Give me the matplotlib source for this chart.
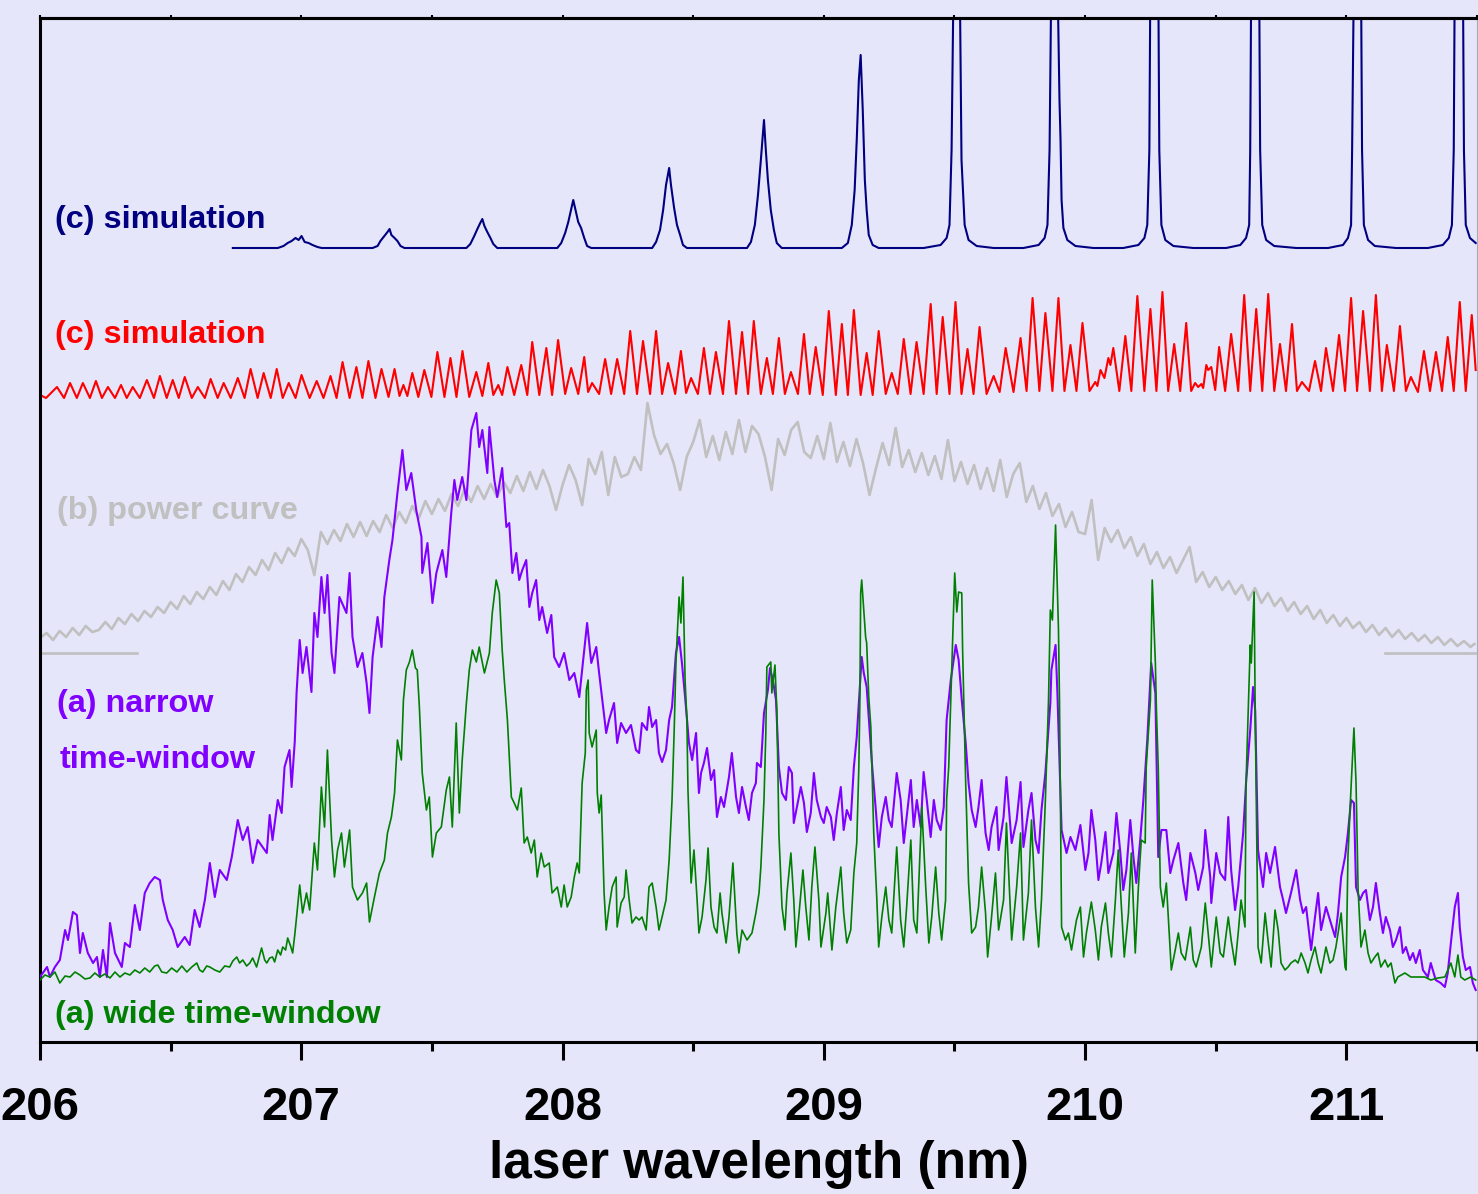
import matplotlib
matplotlib.use('Agg')
import matplotlib.pyplot as plt

# ---------------- data (wavelength in nm, signal in arbitrary units) ----------------
blue_nm = [
206.738, 206.910, 206.932, 206.948, 206.963, 206.978, 206.990, 207.001, 207.013, 207.028, 207.043, 207.062, 207.078,
207.273, 207.292, 207.303, 207.318, 207.330, 207.338, 207.345, 207.357, 207.368, 207.380, 207.395,
207.632, 207.647, 207.662, 207.674, 207.685, 207.693, 207.701, 207.712, 207.724, 207.735, 207.750,
207.980, 207.995, 208.010, 208.022, 208.033, 208.041, 208.048, 208.060, 208.071, 208.083, 208.094, 208.110,
208.343, 208.358, 208.373, 208.385, 208.396, 208.408, 208.415, 208.427, 208.438, 208.450, 208.461, 208.476,
208.706, 208.721, 208.736, 208.748, 208.759, 208.771, 208.778, 208.786, 208.797, 208.809, 208.820, 208.839,
209.069, 209.092, 209.107, 209.118, 209.126, 209.134, 209.141, 209.149, 209.157, 209.164, 209.172, 209.187, 209.210,
209.382, 209.447, 209.470, 209.481, 209.489, 209.497, 209.520, 209.527, 209.531, 209.539, 209.554, 209.585, 209.650,
209.764, 209.822, 209.845, 209.856, 209.864, 209.871, 209.894, 209.902, 209.906, 209.910, 209.917, 209.932, 209.963, 210.032,
210.146, 210.204, 210.227, 210.238, 210.246, 210.250, 210.280, 210.284, 210.292, 210.307, 210.338, 210.414,
210.540, 210.594, 210.616, 210.628, 210.632, 210.636, 210.666, 210.670, 210.678, 210.693, 210.724, 210.808,
210.930, 210.987, 211.006, 211.018, 211.022, 211.029, 211.056, 211.060, 211.067, 211.083, 211.109, 211.190,
211.312, 211.369, 211.392, 211.404, 211.411, 211.415, 211.446, 211.450, 211.457, 211.473, 211.495]
blue_sig = [
794, 794, 796, 799, 801, 804, 802, 806, 800, 799, 797, 795, 794,
794, 796, 801, 806, 810, 813, 807, 804, 801, 796, 794,
794, 798, 806, 813, 819, 823, 816, 810, 804, 798, 794,
794, 799, 809, 820, 833, 842, 834, 820, 814, 804, 796, 794,
794, 800, 812, 832, 857, 874, 857, 834, 817, 807, 797, 794,
794, 800, 817, 847, 882, 922, 892, 862, 832, 812, 799, 794,
794, 799, 817, 852, 902, 962, 987, 932, 862, 832, 807, 797, 794,
794, 797, 804, 817, 892, 1072, 1072, 882, 860, 817, 802, 796, 794,
794, 797, 804, 817, 892, 1072, 1072, 942, 902, 842, 814, 802, 796, 794,
794, 797, 804, 817, 892, 1072, 1072, 892, 817, 802, 796, 794,
794, 797, 804, 817, 892, 1072, 1072, 892, 817, 802, 796, 794,
794, 797, 804, 817, 892, 1072, 1072, 892, 817, 802, 796, 794,
794, 797, 804, 817, 892, 1072, 1072, 892, 817, 804, 799]

red_nm = [
206.000, 206.023, 206.065, 206.092, 206.115, 206.141, 206.164, 206.191, 206.214, 206.237,
206.260, 206.287, 206.310, 206.332, 206.355, 206.382, 206.409, 206.436, 206.459, 206.485,
206.508, 206.531, 206.554, 206.581, 206.604, 206.631, 206.653, 206.680, 206.703, 206.730,
206.757, 206.783, 206.806, 206.833, 206.856, 206.883, 206.906, 206.929, 206.952, 206.978,
207.001, 207.032, 207.059, 207.085, 207.112, 207.135, 207.158, 207.185, 207.211, 207.234,
207.257, 207.284, 207.307, 207.334, 207.357, 207.376, 207.391, 207.406, 207.425, 207.448,
207.471, 207.498, 207.521, 207.548, 207.571, 207.594, 207.617, 207.643, 207.670, 207.693,
207.716, 207.735, 207.754, 207.769, 207.789, 207.815, 207.842, 207.865, 207.884, 207.911,
207.938, 207.960, 207.983, 208.010, 208.033, 208.060, 208.083, 208.098, 208.113, 208.140,
208.163, 208.186, 208.209, 208.236, 208.259, 208.285, 208.308, 208.335, 208.358, 208.381,
208.404, 208.431, 208.453, 208.473, 208.492, 208.518, 208.541, 208.564, 208.587, 208.614,
208.637, 208.664, 208.687, 208.710, 208.732, 208.759, 208.782, 208.805, 208.828, 208.851,
208.874, 208.901, 208.924, 208.946, 208.969, 208.996, 209.019, 209.046, 209.069, 209.092,
209.115, 209.141, 209.164, 209.187, 209.210, 209.237, 209.260, 209.283, 209.306, 209.332,
209.355, 209.382, 209.409, 209.432, 209.455, 209.481, 209.504, 209.527, 209.550, 209.573,
209.596, 209.623, 209.650, 209.673, 209.696, 209.726, 209.753, 209.776, 209.799, 209.825,
209.848, 209.875, 209.898, 209.921, 209.944, 209.967, 209.990, 210.017, 210.039, 210.047,
210.059, 210.074, 210.089, 210.097, 210.108, 210.131, 210.154, 210.177, 210.200, 210.227,
210.250, 210.273, 210.296, 210.318, 210.341, 210.364, 210.387, 210.406, 210.421, 210.433,
210.445, 210.452, 210.464, 210.471, 210.483, 210.498, 210.513, 210.536, 210.559, 210.586,
210.609, 210.632, 210.655, 210.678, 210.701, 210.724, 210.746, 210.769, 210.792, 210.811,
210.830, 210.857, 210.880, 210.903, 210.922, 210.949, 210.972, 210.995, 211.018, 211.041,
211.064, 211.090, 211.113, 211.136, 211.155, 211.182, 211.205, 211.228, 211.247, 211.274,
211.297, 211.320, 211.343, 211.366, 211.388, 211.411, 211.434, 211.457, 211.480, 211.495]
red_sig = [
647, 644, 655, 644, 659, 644, 659, 644, 661, 644,
655, 644, 657, 644, 655, 644, 662, 644, 666, 644,
662, 644, 665, 644, 655, 644, 663, 644, 659, 644,
664, 644, 673, 644, 669, 644, 673, 644, 659, 644,
667, 644, 661, 644, 666, 644, 680, 644, 675, 644,
681, 644, 673, 645, 673, 646, 657, 646, 669, 645,
672, 645, 690, 645, 684, 645, 691, 645, 670, 646,
679, 647, 657, 647, 675, 647, 677, 647, 700, 647,
694, 647, 702, 648, 674, 648, 685, 650, 659, 648,
683, 648, 683, 648, 711, 648, 701, 648, 711, 648,
679, 648, 691, 649, 664, 648, 694, 648, 690, 648,
721, 648, 710, 648, 721, 648, 684, 648, 704, 648,
670, 648, 708, 648, 695, 647, 731, 647, 718, 647,
732, 647, 689, 647, 711, 648, 669, 648, 703, 648,
700, 648, 738, 648, 725, 648, 740, 648, 693, 648,
715, 648, 666, 650, 694, 650, 704, 651, 744, 651,
729, 651, 744, 651, 697, 651, 719, 651, 660, 656,
672, 664, 684, 677, 694, 651, 706, 651, 746, 651,
733, 651, 750, 651, 698, 651, 719, 651, 659, 655,
658, 654, 677, 672, 675, 652, 695, 651, 708, 651,
747, 651, 733, 651, 748, 651, 698, 651, 718, 651,
660, 651, 681, 651, 694, 651, 707, 651, 744, 651,
731, 651, 747, 651, 697, 651, 716, 651, 665, 650,
691, 651, 690, 651, 705, 651, 740, 651, 727, 672]

gray_nm = [
206.000, 206.025, 206.050, 206.075, 206.100, 206.125, 206.150, 206.175, 206.200, 206.225,
206.250, 206.275, 206.300, 206.325, 206.350, 206.375, 206.400, 206.425, 206.450, 206.475,
206.500, 206.525, 206.550, 206.575, 206.600, 206.625, 206.650, 206.675, 206.700, 206.725,
206.750, 206.775, 206.800, 206.825, 206.850, 206.875, 206.900, 206.925, 206.950, 206.975,
207.000, 207.025, 207.050, 207.075, 207.100, 207.125, 207.150, 207.175, 207.200, 207.225,
207.250, 207.275, 207.300, 207.325, 207.350, 207.375, 207.400, 207.425, 207.450, 207.475,
207.500, 207.525, 207.550, 207.575, 207.600, 207.625, 207.650, 207.675, 207.700, 207.725,
207.750, 207.775, 207.800, 207.825, 207.850, 207.875, 207.900, 207.925, 207.950, 207.975,
208.000, 208.025, 208.050, 208.075, 208.100, 208.125, 208.150, 208.175, 208.200, 208.225,
208.250, 208.275, 208.300, 208.325, 208.350, 208.375, 208.400, 208.425, 208.450, 208.475,
208.500, 208.525, 208.550, 208.575, 208.600, 208.625, 208.650, 208.675, 208.700, 208.725,
208.750, 208.775, 208.800, 208.825, 208.850, 208.875, 208.900, 208.925, 208.950, 208.975,
209.000, 209.025, 209.050, 209.075, 209.100, 209.125, 209.150, 209.175, 209.200, 209.225,
209.250, 209.275, 209.300, 209.325, 209.350, 209.375, 209.400, 209.425, 209.450, 209.475,
209.500, 209.525, 209.550, 209.575, 209.600, 209.625, 209.650, 209.675, 209.700, 209.725,
209.750, 209.775, 209.800, 209.825, 209.850, 209.875, 209.900, 209.925, 209.950, 209.975,
210.000, 210.025, 210.050, 210.075, 210.100, 210.125, 210.150, 210.175, 210.200, 210.225,
210.250, 210.275, 210.300, 210.325, 210.350, 210.375, 210.400, 210.425, 210.450, 210.475,
210.500, 210.525, 210.550, 210.575, 210.600, 210.625, 210.650, 210.675, 210.700, 210.725,
210.750, 210.775, 210.800, 210.825, 210.850, 210.875, 210.900, 210.925, 210.950, 210.975,
211.000, 211.025, 211.050, 211.075, 211.100, 211.125, 211.150, 211.175, 211.200, 211.225,
211.250, 211.275, 211.300, 211.325, 211.350, 211.375, 211.400, 211.425, 211.450, 211.475,
211.490]
gray_sig = [
404, 409, 402, 411, 405, 414, 407, 416, 410, 412,
420, 413, 424, 418, 428, 421, 431, 425, 435, 429,
440, 433, 446, 438, 450, 443, 455, 447, 461, 452,
468, 460, 475, 467, 482, 472, 489, 479, 494, 486,
503, 492, 467, 510, 498, 512, 501, 518, 505, 520,
506, 521, 510, 527, 514, 530, 519, 536, 524, 541,
528, 543, 531, 548, 536, 553, 540, 556, 543, 558,
545, 560, 549, 566, 551, 570, 553, 572, 556, 532,
557, 577, 562, 537, 583, 568, 590, 547, 585, 565,
568, 585, 572, 639, 607, 588, 598, 579, 552, 585,
600, 622, 585, 606, 582, 610, 588, 622, 590, 616,
608, 585, 552, 603, 587, 612, 620, 590, 584, 606,
583, 619, 580, 600, 576, 603, 579, 547, 574, 599,
577, 614, 575, 592, 570, 589, 567, 586, 563, 602,
561, 580, 558, 577, 553, 574, 551, 582, 545, 568,
579, 540, 556, 533, 549, 526, 538, 515, 530, 510,
508, 542, 482, 514, 500, 512, 494, 505, 486, 498,
478, 490, 474, 485, 469, 482, 495, 460, 470, 455,
465, 452, 461, 448, 457, 442, 454, 439, 449, 436,
444, 431, 440, 428, 436, 423, 432, 419, 427, 416,
424, 414, 420, 410, 417, 407, 414, 405, 412, 403,
409, 401, 407, 399, 405, 397, 403, 396, 401, 395,
398]
gray_zero_left_nm = [206.000, 206.371]
gray_zero_right_nm = [211.148, 211.495]
gray_zero_sig = [389, 389]

purple_nm = [
206.000, 206.027, 206.038, 206.057, 206.076, 206.096, 206.107, 206.126, 206.141, 206.153,
206.164, 206.183, 206.203, 206.218, 206.229, 206.241, 206.256, 206.268, 206.287, 206.313,
206.325, 206.344, 206.363, 206.382, 206.401, 206.420, 206.439, 206.459, 206.470, 206.489,
206.508, 206.527, 206.554, 206.573, 206.592, 206.611, 206.631, 206.650, 206.669, 206.688,
206.715, 206.734, 206.757, 206.776, 206.795, 206.814, 206.833, 206.852, 206.868, 206.879,
206.890, 206.910, 206.925, 206.936, 206.955, 206.963, 206.975, 206.982, 206.994, 207.005,
207.020, 207.039, 207.050, 207.062, 207.077, 207.089, 207.100, 207.116, 207.127, 207.146,
207.173, 207.185, 207.196, 207.215, 207.234, 207.250, 207.261, 207.273, 207.292, 207.307,
207.318, 207.337, 207.349, 207.368, 207.387, 207.402, 207.421, 207.440, 207.460, 207.463,
207.483, 207.502, 207.517, 207.540, 207.555, 207.574, 207.586, 207.597, 207.616, 207.632,
207.651, 207.670, 207.681, 207.693, 207.712, 207.720, 207.739, 207.750, 207.769, 207.785,
207.796, 207.808, 207.823, 207.834, 207.846, 207.861, 207.873, 207.884, 207.899, 207.911,
207.922, 207.941, 207.957, 207.968, 207.987, 208.006, 208.026, 208.045, 208.064, 208.083,
208.094, 208.110, 208.129, 208.140, 208.152, 208.167, 208.178, 208.197, 208.209, 208.224,
208.243, 208.262, 208.281, 208.293, 208.304, 208.323, 208.331, 208.343, 208.358, 208.369,
208.381, 208.396, 208.408, 208.419, 208.434, 208.446, 208.457, 208.469, 208.484, 208.496,
208.511, 208.522, 208.530, 208.541, 208.553, 208.568, 208.580, 208.591, 208.606, 208.618,
208.637, 208.648, 208.664, 208.675, 208.687, 208.702, 208.713, 208.725, 208.740, 208.744,
208.759, 208.771, 208.786, 208.794, 208.805, 208.817, 208.828, 208.840, 208.855, 208.866,
208.878, 208.885, 208.897, 208.912, 208.924, 208.935, 208.950, 208.962, 208.973, 208.989,
209.000, 209.011, 209.027, 209.038, 209.050, 209.065, 209.076, 209.088, 209.103, 209.115,
209.126, 209.145, 209.153, 209.164, 209.184, 209.199, 209.210, 209.222, 209.237, 209.249,
209.260, 209.279, 209.294, 209.306, 209.317, 209.333, 209.344, 209.356, 209.371, 209.382,
209.394, 209.409, 209.421, 209.432, 209.447, 209.459, 209.470, 209.486, 209.505, 209.516,
209.528, 209.543, 209.554, 209.566, 209.581, 209.592, 209.604, 209.619, 209.631, 209.642,
209.661, 209.669, 209.688, 209.699, 209.719, 209.738, 209.753, 209.764, 209.783, 209.795,
209.810, 209.822, 209.833, 209.848, 209.867, 209.871, 209.887, 209.894, 209.910, 209.929,
209.944, 209.963, 209.982, 210.001, 210.013, 210.024, 210.039, 210.051, 210.062, 210.078,
210.089, 210.108, 210.120, 210.135, 210.146, 210.158, 210.173, 210.185, 210.196, 210.211,
210.223, 210.238, 210.253, 210.269, 210.280, 210.292, 210.311, 210.326, 210.338, 210.357,
210.376, 210.387, 210.403, 210.422, 210.433, 210.452, 210.460, 210.479, 210.483, 210.502,
210.517, 210.536, 210.548, 210.559, 210.574, 210.586, 210.605, 210.616, 210.632, 210.643,
210.651, 210.662, 210.681, 210.693, 210.708, 210.727, 210.746, 210.758, 210.769, 210.788,
210.808, 210.823, 210.834, 210.846, 210.865, 210.880, 210.892, 210.903, 210.922, 210.937,
210.957, 210.968, 210.980, 210.995, 211.006, 211.018, 211.029, 211.037, 211.052, 211.064,
211.075, 211.090, 211.102, 211.113, 211.128, 211.140, 211.151, 211.167, 211.178, 211.190,
211.205, 211.216, 211.228, 211.243, 211.255, 211.266, 211.281, 211.293, 211.312, 211.323,
211.342, 211.361, 211.377, 211.388, 211.400, 211.415, 211.427, 211.434, 211.446, 211.457,
211.473, 211.484, 211.495]
purple_sig = [
65, 75, 65, 75, 82, 112, 102, 130, 127, 89,
109, 89, 79, 85, 65, 92, 65, 119, 89, 75,
99, 95, 137, 112, 149, 159, 165, 162, 142, 122,
112, 95, 105, 97, 132, 115, 142, 179, 145, 172,
162, 185, 222, 202, 215, 179, 202, 195, 189, 227,
202, 242, 229, 275, 292, 255, 300, 349, 402, 369,
395, 350, 429, 405, 465, 429, 467, 389, 369, 445,
429, 469, 405, 375, 389, 359, 329, 385, 425, 395,
445, 482, 502, 549, 592, 552, 569, 532, 505, 469,
499, 439, 469, 492, 465, 529, 562, 542, 565, 542,
612, 629, 595, 612, 569, 615, 562, 545, 574, 515,
519, 469, 489, 462, 472, 482, 435, 449, 462, 422,
435, 409, 427, 385, 375, 389, 362, 369, 345, 392,
419, 379, 395, 369, 342, 309, 322, 339, 299, 319,
309, 317, 292, 289, 319, 312, 335, 315, 322, 289,
280, 292, 322, 335, 389, 405, 379, 345, 299, 282,
309, 249, 269, 279, 294, 262, 272, 225, 245, 235,
265, 289, 245, 229, 255, 235, 222, 249, 259, 279,
275, 329, 352, 374, 362, 342, 275, 249, 242, 275,
269, 219, 235, 255, 239, 210, 229, 269, 242, 225,
219, 235, 225, 202, 229, 255, 212, 232, 222, 275,
305, 385, 369, 355, 279, 232, 195, 225, 245, 222,
215, 269, 242, 199, 225, 262, 215, 242, 215, 270,
242, 205, 242, 222, 212, 235, 322, 362, 397, 382,
342, 299, 259, 232, 215, 235, 262, 209, 192, 215,
235, 192, 225, 265, 199, 222, 260, 195, 232, 249,
202, 189, 232, 269, 339, 372, 397, 349, 212, 189,
205, 192, 217, 172, 189, 232, 202, 162, 179, 210,
169, 189, 229, 189, 152, 172, 222, 185, 159, 202,
242, 302, 379, 349, 185, 212, 212, 169, 182, 199,
159, 142, 189, 169, 152, 175, 212, 165, 139, 189,
169, 162, 225, 172, 132, 155, 209, 259, 312, 355,
332, 192, 155, 189, 169, 195, 155, 142, 129, 149,
172, 142, 129, 135, 92, 125, 149, 112, 135, 122,
105, 129, 165, 185, 209, 242, 239, 155, 142, 149,
152, 122, 135, 159, 129, 109, 125, 112, 95, 102,
115, 89, 95, 82, 89, 79, 92, 72, 65, 79,
62, 59, 55, 69, 99, 135, 149, 115, 85, 72,
75, 59, 52]

green_nm = [
206.000, 206.019, 206.038, 206.057, 206.076, 206.096, 206.115, 206.134, 206.153, 206.172,
206.191, 206.210, 206.229, 206.248, 206.268, 206.287, 206.306, 206.325, 206.344, 206.363,
206.382, 206.401, 206.420, 206.439, 206.451, 206.466, 206.485, 206.504, 206.524, 206.543,
206.562, 206.581, 206.600, 206.611, 206.623, 206.638, 206.650, 206.669, 206.688, 206.707,
206.726, 206.738, 206.753, 206.764, 206.776, 206.791, 206.803, 206.814, 206.829, 206.848,
206.860, 206.868, 206.879, 206.890, 206.898, 206.910, 206.921, 206.929, 206.940, 206.948,
206.959, 206.967, 206.975, 206.982, 206.994, 207.005, 207.020, 207.032, 207.050, 207.062,
207.077, 207.089, 207.100, 207.116, 207.127, 207.139, 207.154, 207.165, 207.185, 207.196,
207.215, 207.234, 207.250, 207.261, 207.280, 207.299, 207.318, 207.330, 207.345, 207.357,
207.368, 207.383, 207.391, 207.402, 207.414, 207.425, 207.437, 207.444, 207.452, 207.463,
207.479, 207.490, 207.502, 207.517, 207.536, 207.555, 207.567, 207.578, 207.593, 207.605,
207.616, 207.632, 207.643, 207.655, 207.670, 207.681, 207.701, 207.720, 207.731, 207.746,
207.758, 207.769, 207.777, 207.789, 207.804, 207.815, 207.827, 207.842, 207.853, 207.865,
207.880, 207.892, 207.903, 207.918, 207.930, 207.949, 207.960, 207.980, 207.995, 208.006,
208.018, 208.033, 208.045, 208.056, 208.064, 208.075, 208.087, 208.091, 208.098, 208.102,
208.113, 208.129, 208.133, 208.140, 208.148, 208.159, 208.167, 208.178, 208.190, 208.205,
208.209, 208.224, 208.236, 208.243, 208.255, 208.266, 208.281, 208.293, 208.304, 208.320,
208.331, 208.343, 208.358, 208.369, 208.381, 208.396, 208.408, 208.419, 208.427, 208.434,
208.446, 208.453, 208.461, 208.469, 208.476, 208.480, 208.492, 208.503, 208.515, 208.522,
208.534, 208.549, 208.557, 208.568, 208.580, 208.591, 208.603, 208.610, 208.626, 208.637,
208.652, 208.667, 208.675, 208.687, 208.706, 208.725, 208.740, 208.752, 208.759, 208.771,
208.778, 208.782, 208.797, 208.801, 208.813, 208.820, 208.824, 208.828, 208.840, 208.851,
208.859, 208.874, 208.885, 208.893, 208.904, 208.920, 208.931, 208.943, 208.954, 208.966,
208.981, 208.989, 209.008, 209.015, 209.031, 209.046, 209.065, 209.076, 209.088, 209.103,
209.115, 209.126, 209.134, 209.138, 209.141, 209.145, 209.160, 209.164, 209.172, 209.180,
209.191, 209.203, 209.210, 209.222, 209.237, 209.249, 209.260, 209.279, 209.294, 209.306,
209.317, 209.333, 209.344, 209.356, 209.375, 209.390, 209.402, 209.413, 209.428, 209.440,
209.451, 209.466, 209.470, 209.478, 209.486, 209.493, 209.501, 209.509, 209.516, 209.528,
209.531, 209.543, 209.554, 209.566, 209.581, 209.592, 209.604, 209.619, 209.627, 209.642,
209.657, 209.669, 209.688, 209.699, 209.719, 209.738, 209.753, 209.764, 209.783, 209.795,
209.810, 209.822, 209.833, 209.848, 209.860, 209.867, 209.875, 209.887, 209.898, 209.902,
209.910, 209.925, 209.936, 209.948, 209.967, 209.982, 209.994, 210.005, 210.024, 210.039,
210.051, 210.062, 210.078, 210.089, 210.101, 210.116, 210.127, 210.139, 210.150, 210.166,
210.177, 210.192, 210.204, 210.215, 210.230, 210.234, 210.250, 210.257, 210.269, 210.273,
210.280, 210.288, 210.299, 210.311, 210.326, 210.330, 210.345, 210.357, 210.368, 210.383,
210.403, 210.414, 210.425, 210.445, 210.460, 210.471, 210.483, 210.502, 210.517, 210.529,
210.548, 210.559, 210.574, 210.586, 210.597, 210.612, 210.616, 210.632, 210.636, 210.647,
210.651, 210.662, 210.674, 210.689, 210.700, 210.712, 210.727, 210.739, 210.750, 210.765,
210.777, 210.788, 210.804, 210.815, 210.827, 210.842, 210.853, 210.865, 210.880, 210.892,
210.903, 210.922, 210.937, 210.949, 210.960, 210.980, 210.995, 210.999, 211.006, 211.018,
211.029, 211.037, 211.045, 211.056, 211.071, 211.083, 211.094, 211.109, 211.121, 211.132,
211.148, 211.159, 211.171, 211.186, 211.197, 211.224, 211.247, 211.274, 211.300, 211.323,
211.350, 211.377, 211.400, 211.415, 211.427, 211.438, 211.453, 211.476, 211.495]
green_sig = [
62, 67, 65, 70, 59, 66, 65, 70, 67, 63,
64, 69, 65, 68, 64, 70, 65, 69, 67, 72,
69, 74, 70, 76, 77, 70, 69, 74, 70, 76,
70, 75, 79, 72, 70, 76, 75, 72, 70, 76,
75, 81, 85, 79, 82, 76, 79, 84, 75, 94,
82, 79, 84, 85, 80, 92, 87, 95, 92, 104,
96, 89, 107, 125, 157, 129, 149, 132, 199, 172,
255, 215, 292, 202, 165, 192, 209, 175, 212, 155,
142, 149, 159, 120, 145, 169, 182, 209, 225, 249,
302, 282, 342, 372, 380, 392, 374, 372, 335, 269,
232, 245, 185, 209, 215, 252, 265, 215, 319, 229,
282, 339, 372, 392, 380, 395, 369, 389, 429, 462,
449, 392, 362, 322, 245, 239, 232, 254, 199, 205,
189, 202, 165, 189, 175, 179, 149, 155, 135, 157,
135, 145, 165, 179, 169, 259, 289, 352, 362, 309,
295, 312, 249, 229, 247, 149, 112, 135, 155, 165,
115, 139, 145, 172, 142, 119, 125, 122, 125, 112,
155, 159, 135, 112, 125, 142, 182, 242, 309, 379,
445, 419, 465, 362, 322, 252, 159, 192, 142, 109,
125, 162, 194, 135, 115, 109, 149, 129, 99, 125,
179, 109, 89, 112, 102, 109, 129, 149, 175, 242,
309, 375, 380, 349, 377, 332, 275, 209, 135, 112,
149, 189, 142, 95, 125, 172, 135, 102, 155, 195,
142, 95, 129, 149, 92, 135, 175, 129, 99, 112,
169, 199, 275, 342, 449, 462, 405, 399, 345, 315,
209, 142, 95, 125, 155, 122, 109, 195, 122, 95,
135, 202, 122, 109, 235, 155, 99, 125, 175, 129,
102, 142, 242, 275, 342, 402, 469, 430, 450, 449,
395, 259, 159, 109, 115, 135, 175, 129, 85, 125,
169, 112, 142, 219, 102, 155, 209, 102, 149, 222,
135, 95, 142, 242, 342, 432, 422, 517, 414, 342,
115, 102, 109, 92, 122, 135, 85, 109, 140, 112,
82, 115, 139, 109, 85, 142, 192, 135, 85, 129,
189, 89, 155, 202, 199, 275, 342, 462, 379, 332,
275, 155, 135, 159, 89, 72, 92, 109, 89, 82,
115, 82, 75, 95, 139, 109, 75, 125, 89, 85,
125, 102, 77, 109, 142, 115, 259, 397, 379, 450,
332, 95, 79, 129, 102, 75, 132, 112, 79, 72,
75, 79, 82, 79, 89, 79, 69, 82, 95, 79,
69, 95, 79, 82, 95, 129, 75, 72, 185, 255,
314, 259, 152, 95, 112, 89, 79, 85, 89, 75,
82, 75, 79, 59, 65, 69, 65, 65, 65, 62,
64, 65, 79, 65, 87, 65, 62, 65, 62]

major_ticks = [206, 207, 208, 209, 210, 211]
minor_ticks = [206.5, 207.5, 208.5, 209.5, 210.5, 211.5]
tick_labels = ['206', '207', '208', '209', '210', '211']
x_label = 'laser wavelength (nm)'

# ---------------- style ----------------
plt.rcParams['font.family'] = ['Liberation Sans', 'DejaVu Sans']
plt.rcParams['font.weight'] = 'bold'

BG = '#e6e6fa'
C_BLUE = '#000080'
C_RED = '#ff0000'
C_GRAY = '#c0c0c0'
C_PURPLE = '#8000ff'
C_GREEN = '#008000'

fig = plt.figure(figsize=(14.78, 11.94), dpi=100)
fig.patch.set_facecolor(BG)
ax = fig.add_axes([40 / 1478, 152 / 1194, 1437 / 1478, 1024 / 1194])
ax.set_facecolor(BG)

ax.plot(gray_zero_left_nm, gray_zero_sig, color=C_GRAY, lw=1.9, zorder=2)
ax.plot(gray_zero_right_nm, gray_zero_sig, color=C_GRAY, lw=1.9, zorder=2)
ax.plot(gray_nm, gray_sig, color=C_GRAY, lw=1.9, zorder=2)
ax.plot(red_nm, red_sig, color=C_RED, lw=1.5, zorder=2)
ax.plot(blue_nm, blue_sig, color=C_BLUE, lw=1.5, zorder=2)
ax.plot(purple_nm, purple_sig, color=C_PURPLE, lw=1.5, zorder=3)
ax.plot(green_nm, green_sig, color=C_GREEN, lw=1.2, zorder=4)

ax.set_xlim(206.0, 211.4917)
ax.set_ylim(0, 1024)

ax.set_xticks(major_ticks)
ax.set_xticklabels(tick_labels)
ax.set_xticks(minor_ticks, minor=True)
ax.set_yticks([])
ax.tick_params(axis='x', which='major', direction='out', length=13, width=2.2,
               labelsize=34, pad=19, colors='black')
ax.tick_params(axis='x', which='minor', direction='out', length=6.5, width=2.2)
for lab in ax.get_xticklabels():
    lab.set_fontweight('bold')

sec = ax.secondary_xaxis('top')
sec.set_xticks(major_ticks + minor_ticks)
sec.tick_params(direction='out', length=2, width=1.5, labeltop=False)
sec.spines['top'].set_linewidth(2.2)

for side in ['left', 'bottom', 'top']:
    ax.spines[side].set_linewidth(2.2)
    ax.spines[side].set_color('black')
ax.spines['right'].set_color('#a8a8b8')
ax.spines['right'].set_linewidth(0.8)

ax.set_xlabel(x_label, fontsize=37, fontweight='bold', labelpad=7)

txt = dict(fontsize=23.3, fontweight='bold', ha='left', va='baseline', zorder=5)
ax.text(206.057, 814, '(c) simulation', color=C_BLUE, **txt)
ax.text(206.057, 699, '(c) simulation', color=C_RED, **txt)
ax.text(206.065, 523, '(b) power curve', color=C_GRAY, **txt)
ax.text(206.065, 330, '(a) narrow', color=C_PURPLE, **txt)
ax.text(206.076, 274, 'time-window', color=C_PURPLE, **txt)
ax.text(206.057, 19, '(a) wide time-window', color=C_GREEN, **txt)

fig.savefig('out.png', dpi=100, facecolor=BG)
